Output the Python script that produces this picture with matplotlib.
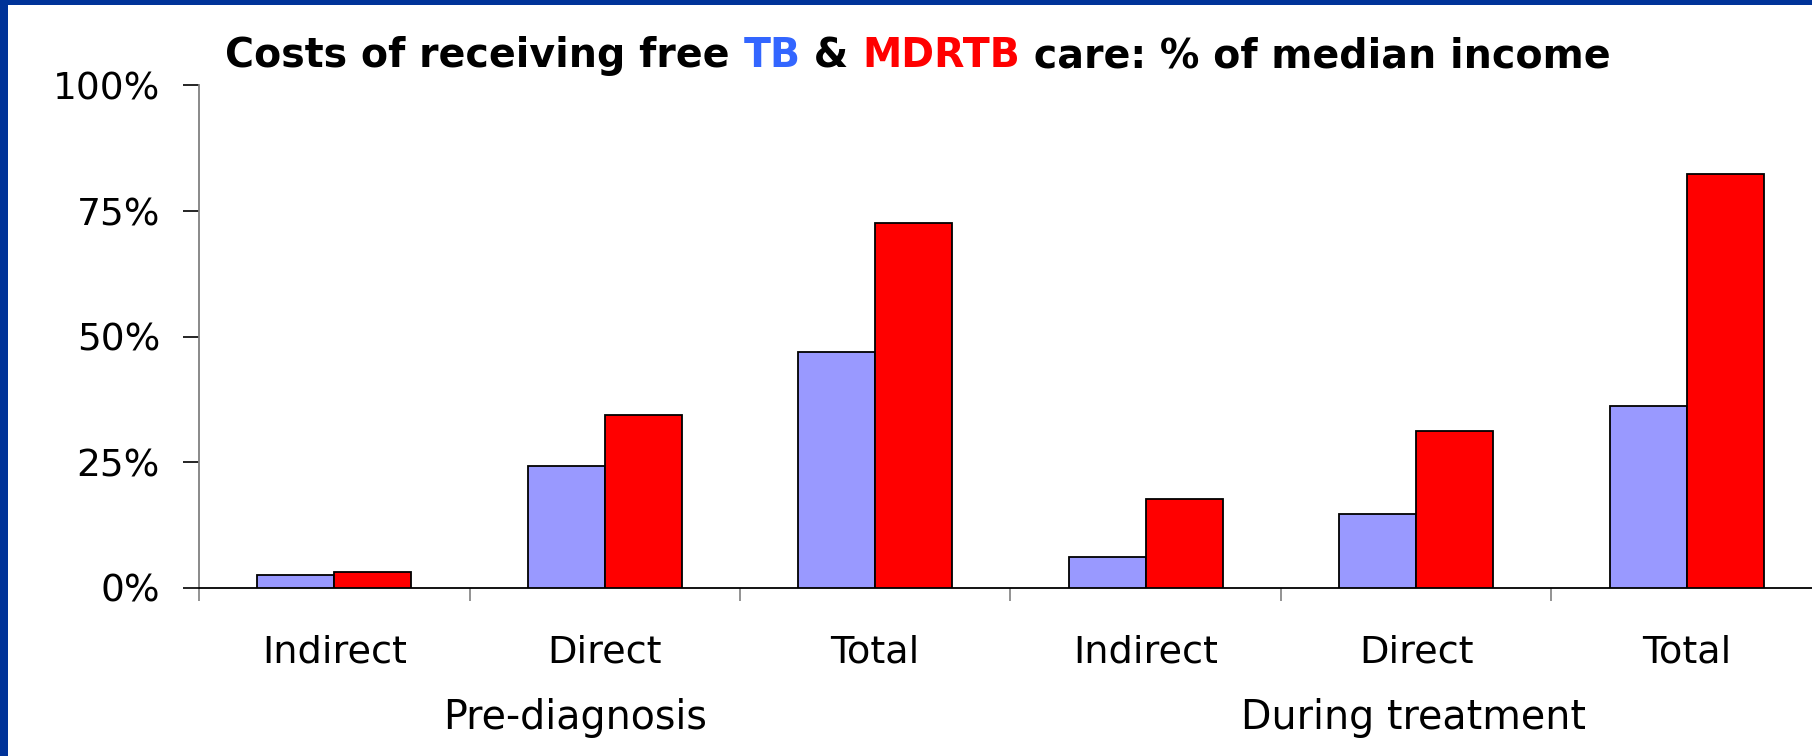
import matplotlib
matplotlib.use("Agg")
import matplotlib.pyplot as plt
from matplotlib.patches import Rectangle
import matplotlib.transforms as mtransforms
import numpy as np

plt.rcParams['font.family'] = ['DejaVu Sans']

categories = ["Indirect", "Direct", "Total", "Indirect", "Direct", "Total"]
groups = ["Pre-diagnosis", "During treatment"]
group_centers = [0.89, 3.99]
tb_values = [2.5, 24.3, 47.0, 6.2, 14.7, 36.2]
mdrtb_values = [3.2, 34.4, 72.7, 17.7, 31.2, 82.3]
yticks = [0, 25, 50, 75, 100]
ytick_labels = ["0%", "25%", "50%", "75%", "100%"]

W, H = 1812, 756
fig = plt.figure(figsize=(W / 100, H / 100), dpi=100)
fig.patch.set_facecolor("white")

# blue frame (left and top)
fig.patches.append(Rectangle((0, 0), 8 / W, 1, transform=fig.transFigure,
                             facecolor="#003399", edgecolor="none", zorder=10))
fig.patches.append(Rectangle((0, 1 - 5 / H), 1, 5 / H, transform=fig.transFigure,
                             facecolor="#003399", edgecolor="none", zorder=10))

left, right_px = 199, 1822
top_px, base_px = 85.5, 588
ax = fig.add_axes([left / W, 1 - base_px / H, (right_px - left) / W, (base_px - top_px) / H])
ax.set_facecolor("none")

x = np.arange(len(categories))
bw = 0.285
ax.bar(x - bw / 2, tb_values, bw, color="#9999FF", edgecolor="black", linewidth=1.3, zorder=3)
ax.bar(x + bw / 2, mdrtb_values, bw, color="#FF0000", edgecolor="black", linewidth=1.3, zorder=3)

ax.set_xlim(-0.5, len(categories) - 0.5)
ax.set_ylim(0, 100)

for s in ["top", "right"]:
    ax.spines[s].set_visible(False)
ax.spines["left"].set_color("#808080")
ax.spines["left"].set_linewidth(1.3)
ax.spines["bottom"].set_color("black")
ax.spines["bottom"].set_linewidth(1.3)

ax.set_yticks(yticks)
ax.set_yticklabels(ytick_labels, fontsize=27)
ax.tick_params(axis="y", direction="out", length=11.5, width=1.2, color="black", pad=16.5)

ax.set_xticks(np.arange(-0.5, len(categories) + 0.5, 1.0))
ax.set_xticklabels([])
ax.tick_params(axis="x", direction="out", length=9.5, width=1.2, color="#808080")

trans = mtransforms.blended_transform_factory(ax.transData, ax.transAxes)
for xi, lab in zip(x, categories):
    ax.text(xi, -0.149, lab, transform=trans, ha="center", va="baseline", fontsize=27.5)
for gc, g in zip(group_centers, groups):
    ax.text(gc, -0.281, g, transform=trans, ha="center", va="baseline", fontsize=28.5)

# title with coloured parts
parts = [("Costs of receiving free ", "black"), ("TB", "#3366FF"), (" & ", "black"),
         ("MDRTB", "#FF0000"), (" care: % of median income", "black")]
fig.canvas.draw()
renderer = fig.canvas.get_renderer()

def draw_title(size, draw=True):
    xpos = 225 / W
    ypos = 1 - 67 / H
    made = []
    for txt, col in parts:
        t = fig.text(xpos, ypos, txt, color=col, fontsize=size, fontweight="bold",
                     ha="left", va="baseline")
        bb = t.get_window_extent(renderer=renderer)
        xpos += bb.width / W
        made.append(t)
    total = xpos * W - 225
    if not draw:
        for t in made:
            t.remove()
    return total

w0 = draw_title(27, draw=False)
size = min(29.0, 27 * 1385 / w0)
draw_title(size)

fig.savefig("out.png", dpi=100, facecolor="white")
